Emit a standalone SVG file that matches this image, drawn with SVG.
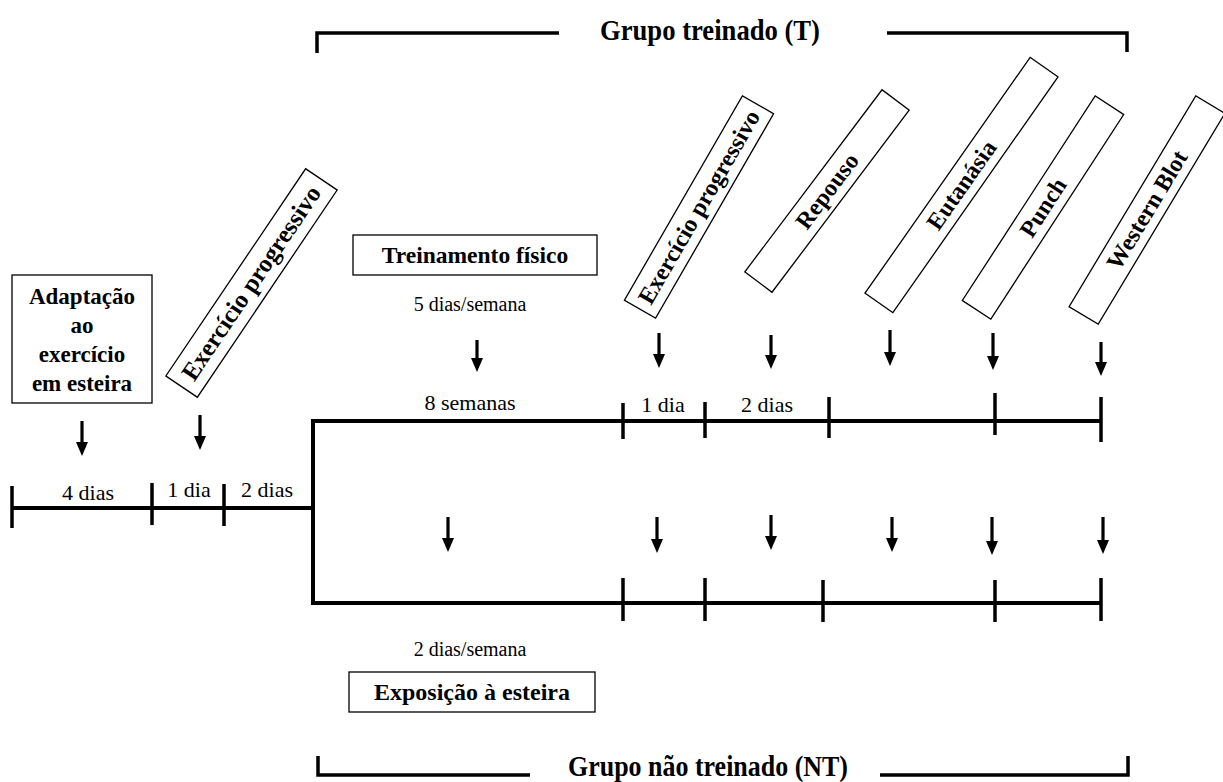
<svg xmlns="http://www.w3.org/2000/svg" width="1223" height="782" viewBox="0 0 1223 782">
<style>
text{font-family:'Liberation Serif','Times New Roman',serif;fill:#000}
.b{font-weight:bold}
.box{fill:#fff;stroke:#000;stroke-width:1.3}
.tl{stroke:#000;stroke-width:4;fill:none;stroke-linecap:butt}
.tk{stroke:#000;stroke-width:3.5}
.br{stroke:#000;stroke-width:3.5;fill:none}
.ar{stroke:#000;stroke-width:3.2;marker-end:url(#ah)}
</style>
<defs>
<marker id="ah" markerUnits="userSpaceOnUse" markerWidth="14" markerHeight="12" viewBox="0 0 14 12" refX="0" refY="6" orient="auto">
<path d="M0,0 L14,6 L0,12 z" fill="#000"/>
</marker>
</defs>
<rect width="1223" height="782" fill="#fff"/>

<g id="bracket-T">
<path class="br" d="M317,53 V33 H559"/>
<path class="br" d="M887,33 H1127 V52"/>
<text class="b" x="710" y="40" font-size="29" text-anchor="middle" textLength="220" lengthAdjust="spacingAndGlyphs">Grupo treinado (T)</text>
</g>

<g id="bracket-NT">
<path class="br" d="M318,756 V775 H530"/>
<path class="br" d="M880,775 H1128 V756"/>
<text class="b" x="708" y="776" font-size="29" text-anchor="middle" textLength="280" lengthAdjust="spacingAndGlyphs">Grupo não treinado (NT)</text>
</g>

<g id="adaptacao">
<rect class="box" x="12" y="275" width="140" height="128"/>
<text class="b" font-size="23" text-anchor="middle"><tspan x="82" y="304">Adaptação</tspan><tspan x="82" y="333">ao</tspan><tspan x="82" y="362">exercício</tspan><tspan x="82" y="391">em esteira</tspan></text>
</g>

<g id="exercicio-1" transform="translate(251.5,283) rotate(-56)">
<rect class="box" x="-125" y="-19" width="250" height="38"/>
<text class="b" x="0" y="8" font-size="25" text-anchor="middle">Exercício progressivo</text>
</g>

<g id="treinamento">
<rect class="box" x="353" y="235" width="244" height="40"/>
<text class="b" x="475" y="263" font-size="23.5" text-anchor="middle">Treinamento físico</text>
<text x="470" y="311" font-size="20" text-anchor="middle">5 dias/semana</text>
</g>

<g id="exposicao">
<rect class="box" x="349" y="672" width="246" height="40"/>
<text class="b" x="472" y="700" font-size="24" text-anchor="middle">Exposição à esteira</text>
<text x="470" y="656" font-size="20" text-anchor="middle">2 dias/semana</text>
</g>

<g id="exercicio-2" transform="translate(699,207) rotate(-60)">
<rect class="box" x="-118" y="-18" width="236" height="36"/>
<text class="b" x="0" y="8" font-size="24" text-anchor="middle">Exercício progressivo</text>
</g>

<g id="repouso" transform="translate(827,191) rotate(-53)">
<rect class="box" x="-114" y="-17" width="228" height="34"/>
<text class="b" x="0" y="8" font-size="24" text-anchor="middle">Repouso</text>
</g>

<g id="eutanasia" transform="translate(961.5,185) rotate(-55)">
<rect class="box" x="-144" y="-17" width="288" height="34"/>
<text class="b" x="0" y="8" font-size="24" text-anchor="middle">Eutanásia</text>
</g>

<g id="punch" transform="translate(1043,207.5) rotate(-57)">
<rect class="box" x="-122" y="-17" width="244" height="34"/>
<text class="b" x="0" y="8" font-size="24" text-anchor="middle">Punch</text>
</g>

<g id="western-blot" transform="translate(1147,210) rotate(-59)">
<rect class="box" x="-123" y="-17" width="246" height="34"/>
<text class="b" x="0" y="8" font-size="24" text-anchor="middle">Western Blot</text>
</g>

<g id="timeline-labels">
<text x="88" y="500" font-size="22" text-anchor="middle">4 dias</text>
<text x="189" y="497" font-size="22" text-anchor="middle">1 dia</text>
<text x="267" y="497" font-size="22" text-anchor="middle">2 dias</text>
<text x="470" y="410" font-size="22" text-anchor="middle">8 semanas</text>
<text x="663" y="412" font-size="22" text-anchor="middle">1 dia</text>
<text x="767" y="412" font-size="22" text-anchor="middle">2 dias</text>
</g>

<g id="connectors">
<path class="tl" d="M12,508 H313"/>
<path class="tl" d="M1101,421 H313 V603 H1101"/>
<line class="tk" x1="12" y1="486" x2="12" y2="528"/>
<line class="tk" x1="152" y1="483" x2="152" y2="525"/>
<line class="tk" x1="224" y1="484" x2="224" y2="526"/>
<line class="tk" x1="623" y1="403" x2="623" y2="439"/>
<line class="tk" x1="705" y1="402" x2="705" y2="438"/>
<line class="tk" x1="829" y1="397" x2="829" y2="438"/>
<line class="tk" x1="995" y1="393" x2="995" y2="435"/>
<line class="tk" x1="1101" y1="397" x2="1101" y2="442"/>
<line class="tk" x1="623" y1="578" x2="623" y2="621"/>
<line class="tk" x1="705" y1="578" x2="705" y2="621"/>
<line class="tk" x1="823" y1="580" x2="823" y2="622"/>
<line class="tk" x1="995" y1="580" x2="995" y2="622"/>
<line class="tk" x1="1101" y1="578" x2="1101" y2="621"/>
<line class="ar" x1="82" y1="421" x2="82" y2="442"/>
<line class="ar" x1="200" y1="415" x2="200" y2="436"/>
<line class="ar" x1="477" y1="340" x2="477" y2="358"/>
<line class="ar" x1="659" y1="333" x2="659" y2="354"/>
<line class="ar" x1="771" y1="335" x2="771" y2="355"/>
<line class="ar" x1="890" y1="330" x2="890" y2="352"/>
<line class="ar" x1="993" y1="333" x2="993" y2="356"/>
<line class="ar" x1="1101" y1="342" x2="1101" y2="362"/>
<line class="ar" x1="448" y1="517" x2="448" y2="538"/>
<line class="ar" x1="657" y1="517" x2="657" y2="539"/>
<line class="ar" x1="771" y1="515" x2="771" y2="536"/>
<line class="ar" x1="892" y1="517" x2="892" y2="538"/>
<line class="ar" x1="992" y1="517" x2="992" y2="541"/>
<line class="ar" x1="1103" y1="517" x2="1103" y2="540"/>
</g>
</svg>
